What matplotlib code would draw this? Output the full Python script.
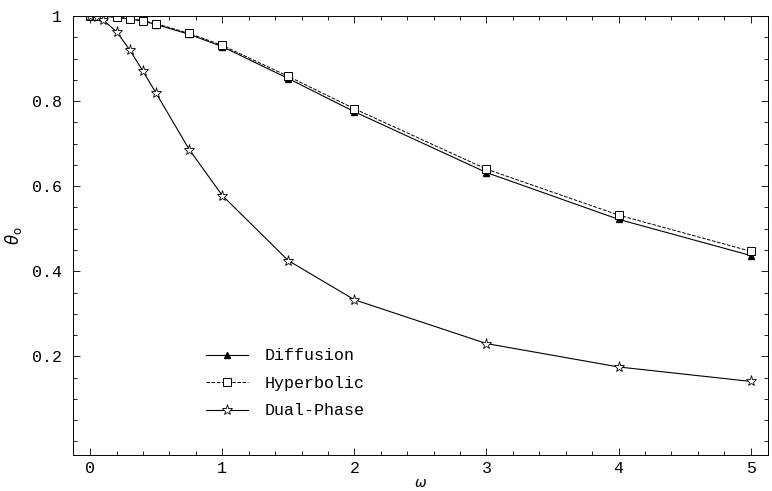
import matplotlib
matplotlib.use('Agg')
import matplotlib.pyplot as plt
from matplotlib.ticker import MultipleLocator

w_diff = [0, 0.05, 0.1, 0.2, 0.3, 0.4, 0.5, 0.75, 1, 1.5, 2, 3, 4, 5]
th_diff = [1.0, 0.9999, 0.9995, 0.997, 0.993, 0.988, 0.98, 0.957, 0.928, 0.853, 0.775, 0.632, 0.522, 0.437]

w_hyp = [0, 0.05, 0.1, 0.2, 0.3, 0.4, 0.5, 0.75, 1, 1.5, 2, 3, 4, 5]
th_hyp = [1.0, 0.9999, 0.9996, 0.997, 0.994, 0.989, 0.982, 0.959, 0.931, 0.858, 0.782, 0.640, 0.532, 0.447]

w_dual = [0, 0.05, 0.1, 0.2, 0.3, 0.4, 0.5, 0.75, 1, 1.5, 2, 3, 4, 5]
th_dual = [1.0, 0.998, 0.99, 0.963, 0.92, 0.87, 0.818, 0.686, 0.578, 0.425, 0.333, 0.23, 0.175, 0.141]

mono = 'Liberation Mono'

fig = plt.figure(figsize=(7.72, 4.91), dpi=100)
ax = fig.add_axes([0.0946, 0.0733, 0.9, 0.8941])

ax.plot(w_diff, th_diff, '-', color='black', lw=0.8, marker='^', ms=4,
        mfc='black', mec='black', label='Diffusion')
ax.plot(w_hyp, th_hyp, '--', color='black', lw=0.7, marker='s', ms=6,
        mfc='white', mec='black', mew=0.7, label='Hyperbolic')
ax.plot(w_dual, th_dual, '-', color='black', lw=0.8, marker='*', ms=8,
        mfc='white', mec='black', mew=0.6, label='Dual-Phase')

ax.set_xlim(-0.13, 5.13)
ax.set_ylim(-0.032, 1.0)
ax.xaxis.set_minor_locator(MultipleLocator(0.2))
ax.yaxis.set_minor_locator(MultipleLocator(0.05))
ax.set_yticks([0.2, 0.4, 0.6, 0.8, 1.0])
ax.set_yticklabels(['0.2', '0.4', '0.6', '0.8', '1'])
ax.set_xticks([0, 1, 2, 3, 4, 5])
ax.set_xticklabels(['0', '1', '2', '3', '4', '5'])
ax.tick_params(which='both', direction='in', top=True, right=True, width=0.6)
ax.tick_params(which='major', length=5, labelsize=12)
ax.tick_params(axis='x', which='major', pad=4)
ax.tick_params(axis='y', which='major', pad=8)
ax.tick_params(which='minor', length=3)
for lab in ax.get_xticklabels() + ax.get_yticklabels():
    lab.set_fontfamily(mono)
for s in ax.spines.values():
    s.set_linewidth(0.7)

ax.set_xlabel(r'$\omega$', fontsize=10, labelpad=0)
ax.set_ylabel(r'$\theta_{\rm o}$', fontsize=12, labelpad=6)

ax.legend(loc='upper left', bbox_to_anchor=(0.17, 0.277), frameon=False,
          prop={'family': mono, 'size': 12}, handlelength=2.5,
          labelspacing=0.75, handletextpad=1.0)

fig.savefig('out.png', dpi=100)
